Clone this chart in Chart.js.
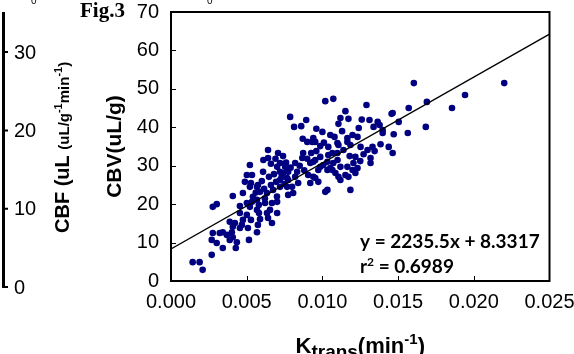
<!DOCTYPE html>
<html><head><meta charset="utf-8">
<script src="https://cdn.jsdelivr.net/npm/chart.js@4"></script>
<style>html,body{margin:0;padding:0;background:#fff;overflow:hidden}#wrap{width:574px;height:354px}</style>
</head><body><div id="wrap"><canvas id="c" width="574" height="354"></canvas></div>
<script>
// ---- data ----
const ktrans = [
 0.00143,0.00189,0.00209,0.00269,0.00269,0.00302,0.00342,0.00276,0.00322,0.00342,
 0.00369,0.00402,0.00408,0.00388,0.00435,0.00428,0.00388,0.00422,0.00408,0.00455,
 0.00468,0.00508,0.00515,0.00276,0.00302,0.00455,0.00408,0.00475,0.00455,0.00475,
 0.00501,0.00528,0.00574,0.00568,0.00501,0.00521,0.00568,0.00581,0.00541,0.00535,
 0.00568,0.00488,0.00521,0.00568,0.00528,0.00574,0.00501,0.00535,0.00521,
 0.00588,0.00641,0.00667,0.00621,0.00667,0.00701,0.00701,0.00654,0.00634,0.00588,
 0.00634,0.00674,0.00720,0.00608,0.00647,0.00701,0.00720,0.00740,0.00767,0.00694,
 0.00720,0.00774,0.00754,0.00720,0.00774,0.00707,0.00740,0.00641,0.00641,0.00820,
 0.00840,0.00833,0.00800,0.00774,0.00807,0.00767,0.00820,0.00787,0.00813,
 0.00860,0.00893,0.00867,0.00873,0.00900,0.00933,0.00940,0.00953,0.00920,0.00940,
 0.00973,0.00906,0.00920,0.00953,0.00973,0.00953,0.00986,0.01006,0.01033,0.01052,
 0.01072,0.01066,0.01033,0.01019,0.00986,0.01039,0.01099,0.01139,0.01099,0.01052,
 0.01165,0.01199,0.01232,0.01119,0.01165,0.01205,0.01172,0.01218,0.01185,0.01199,
 0.01232,0.01086,0.01106,0.01152,0.01119,0.00940,0.01033,0.01019,0.01072,0.01152,
 0.01119,0.01172,0.01106,0.01106,0.00986,0.01039,0.00926,0.01066,
 0.01291,0.01311,0.01365,0.01378,0.01464,0.01338,0.01398,0.01471,0.01165,0.01185,
 0.01331,0.01345,0.01384,0.01438,0.01272,0.01218,0.01318,0.01252,0.01298,0.01318,
 0.01464,0.01398,0.01564,0.01604,0.02201,0.01942,0.01690,0.01570,0.01856,0.01457,
 0.01504,0.01683,
 0.00600,0.00615,0.00660,0.00680,0.00660,0.00690,0.00730,0.00750,0.00760,0.00700,
 0.00620,0.00580,0.00560,0.00610,0.00790,0.00850,0.00880,0.00900,0.00960,0.01010,
 0.01080,0.01130,0.01240,0.01260,0.01000,0.00870,0.00960,0.01180,0.01100,0.01250
];
const cbv = [
 4.9,4.9,2.9,6.8,10.7,9.9,8.6,12.5,12.5,12.7,
 12.0,12.7,11.4,10.7,10.1,8.6,15.4,15.1,14.1,13.8,
 14.6,13.8,10.7,19.3,20.0,19.5,22.1,22.9,17.7,15.9,
 17.2,15.9,14.6,12.7,20.3,19.3,18.5,17.7,21.9,20.6,
 21.1,25.8,24.5,24.5,25.5,25.0,27.6,27.6,30.2,
 16.1,16.4,15.1,20.3,20.3,20.6,17.7,18.5,17.7,23.2,
 22.9,23.7,24.5,28.4,27.1,29.7,30.7,28.1,26.8,25.8,
 26.3,26.3,29.7,28.4,28.4,33.3,32.5,34.1,32.0,27.1,
 25.5,28.4,24.5,22.4,22.9,24.5,30.7,42.7,40.1,
 40.3,41.9,32.0,33.3,36.2,36.2,37.2,36.2,30.7,27.1,
 25.8,27.6,25.5,26.8,28.9,31.5,29.7,30.2,28.9,29.4,
 30.7,28.9,23.7,23.2,32.3,32.8,33.3,34.1,35.9,38.0,
 37.2,38.0,37.5,29.7,29.7,30.7,27.1,28.1,23.7,28.9,
 29.4,28.1,27.1,27.6,26.3,31.0,31.0,46.8,47.4,44.2,
 42.4,42.2,40.9,35.4,35.1,34.9,33.3,33.3,
 45.8,41.9,41.4,40.6,43.7,40.1,39.3,38.2,36.2,35.4,
 34.9,33.8,35.6,34.9,33.0,32.3,32.0,34.9,34.1,30.7,
 33.3,38.5,38.5,51.5,51.5,48.4,46.6,45.0,45.0,43.5,
 41.4,40.1,
 26.0,24.0,25.0,27.8,30.5,31.8,27.0,25.2,30.8,22.0,
 21.5,19.8,23.0,31.5,29.5,30.0,28.8,31.8,33.8,36.0,
 37.5,39.0,39.8,42.0,38.8,37.0,39.6,32.5,31.5,31.2
];
const trendX = [0, 0.025];
const trendY = [8.3317, 64.2192];
const xTickValues = [0, 0.005, 0.010, 0.015, 0.020, 0.025];
const xTickLabels = ['0.000','0.005','0.010','0.015','0.020','0.025'];
const yTickValues = [0,10,20,30,40,50,60,70];
const yTickLabels = ['0','10','20','30','40','50','60','70'];
const leftTickLabels = ['0','10','20','30'];
const leftTickValues = [0,10,20,30];
const equationText = 'y = 2235.5x + 8.3317';
const r2Value = '0.6989';

// ---- drawing ----
const SANS = '"Liberation Sans", Arial, sans-serif';
const SERIF = '"Liberation Serif", "Times New Roman", serif';
const EQ = 'Lato, "Open Sans", sans-serif';

function runText(ctx, parts, x, base) {
  let cx = x;
  parts.forEach(p => {
    ctx.font = p.f;
    ctx.fillText(p.t, cx, base + (p.dy || 0));
    cx += ctx.measureText(p.t).width;
  });
  return cx - x;
}
function measureRun(ctx, parts) {
  let w = 0;
  parts.forEach(p => { ctx.font = p.f; w += ctx.measureText(p.t).width; });
  return w;
}

const extras = {
  id: 'extras',
  afterDraw(chart) {
    const {ctx, chartArea: a, scales: {x, y}} = chart;
    ctx.save();
    ctx.fillStyle = '#000';
    ctx.strokeStyle = '#000';
    // frame
    ctx.lineWidth = 2;
    ctx.strokeRect(a.left, a.top, a.right - a.left, a.bottom - a.top);
    // inward ticks
    ctx.lineWidth = 1;
    ctx.beginPath();
    xTickValues.slice(1, -1).forEach(v => {
      const px = Math.round(x.getPixelForValue(v)) + 0.5;
      ctx.moveTo(px, a.bottom); ctx.lineTo(px, a.bottom - 5);
    });
    yTickValues.slice(1, -1).forEach(v => {
      const py = Math.round(y.getPixelForValue(v)) + 0.5;
      ctx.moveTo(a.left, py); ctx.lineTo(a.left + 5, py);
    });
    ctx.stroke();

    // x axis title: K_trans(min^-1)
    ctx.textAlign = 'left'; ctx.textBaseline = 'alphabetic';
    const xt = [
      {t: 'K', f: `bold 22px ${SANS}`},
      {t: 'trans', f: `bold 19px ${SANS}`, dy: 5},
      {t: '(min', f: `bold 22px ${SANS}`},
      {t: '-1', f: `bold 15px ${SANS}`, dy: -9},
      {t: ')', f: `bold 22px ${SANS}`}
    ];
    const cxMid = (a.left + a.right) / 2;
    runText(ctx, xt, cxMid - measureRun(ctx, xt) / 2, 353);

    // regression equation
    ctx.font = `bold 19px ${EQ}`;
    ctx.fillText(equationText, 360, 248);
    runText(ctx, [
      {t: 'r', f: `bold 19px ${EQ}`},
      {t: '2', f: `bold 12px ${EQ}`, dy: -7},
      {t: ' = ' + r2Value, f: `bold 19px ${EQ}`}
    ], 360, 273);

    // Fig.3 label
    ctx.font = `bold 21px ${SERIF}`;
    ctx.fillText('Fig.3', 80, 17);

    // tiny cut-off characters at the top edge
    ctx.font = `10px ${SANS}`;
    ctx.fillText('0', 31, 4);
    ctx.fillText('0', 207, 4);

    // partial neighbouring panel on the left (CBF axis)
    const lz = 287, lstep = 7.83;
    ctx.fillRect(2, 12, 3, lz - 12);
    ctx.lineWidth = 2;
    ctx.beginPath();
    leftTickValues.forEach(v => {
      const py = lz - v * lstep;
      ctx.moveTo(2, py); ctx.lineTo(8, py);
    });
    ctx.stroke();
    ctx.font = `20px ${SANS}`;
    ctx.textBaseline = 'middle';
    leftTickLabels.forEach((t, i) => ctx.fillText(t, 14, lz - leftTickValues[i] * lstep + 1));
    ctx.textBaseline = 'alphabetic';
    ctx.save();
    ctx.translate(69, 233);
    ctx.rotate(-Math.PI / 2);
    runText(ctx, [
      {t: 'CBF (uL ', f: `bold 20px ${SANS}`},
      {t: '(uL/g', f: `bold 15px ${SANS}`},
      {t: '-1', f: `bold 11px ${SANS}`, dy: -7},
      {t: 'min', f: `bold 15px ${SANS}`},
      {t: '-1', f: `bold 11px ${SANS}`, dy: -7},
      {t: ')', f: `bold 15px ${SANS}`}
    ], 0, 0);
    ctx.restore();
    ctx.restore();
  }
};

const points = ktrans.map((k, i) => ({x: k, y: cbv[i]}));
const trend = trendX.map((k, i) => ({x: k, y: trendY[i]}));

new Chart(document.getElementById('c'), {
  type: 'scatter',
  data: {
    datasets: [
      {data: trend, showLine: true, borderColor: '#000', borderWidth: 1.4, pointRadius: 0, fill: false, order: 0},
      {data: points, backgroundColor: '#000080', borderWidth: 0, pointRadius: 3.3, order: 1}
    ]
  },
  plugins: [extras],
  options: {
    responsive: false, animation: false, devicePixelRatio: 1,
    layout: {padding: {left: 0, top: 12, right: 24.5, bottom: 0}},
    plugins: {legend: {display: false}, tooltip: {enabled: false}},
    scales: {
      x: {
        type: 'linear', min: 0, max: 0.025,
        afterBuildTicks: s => { s.ticks = xTickValues.map(v => ({value: v})); },
        ticks: {font: {family: SANS, size: 20}, color: '#000', padding: 9, maxRotation: 0, autoSkip: false,
                callback: (v, i) => xTickLabels[i]},
        grid: {display: false, drawTicks: false}, border: {display: false},
        afterFit: s => { s.height = 73; s.paddingLeft = 0; s.paddingRight = 0; }
      },
      y: {
        type: 'linear', min: 0, max: 70,
        afterBuildTicks: s => { s.ticks = yTickValues.map(v => ({value: v})); },
        ticks: {font: {family: SANS, size: 20}, color: '#000', padding: 12, autoSkip: false,
                callback: (v, i) => yTickLabels[i]},
        grid: {display: false, drawTicks: false}, border: {display: false},
        title: {display: true, text: 'CBV(uL/g)', color: '#000', font: {family: SANS, size: 21, weight: 'bold'}, padding: {top: 103, bottom: 0}},
        afterFit: s => { s.width = 171; s.paddingTop = 0; s.paddingBottom = 0; }
      }
    }
  }
});
</script>
</body></html>
